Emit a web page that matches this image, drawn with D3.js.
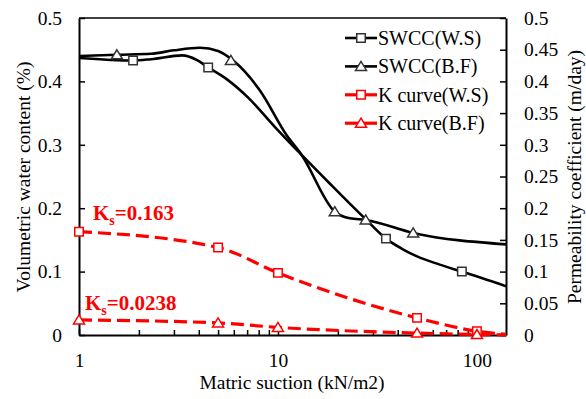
<!DOCTYPE html>
<html>
<head>
<meta charset="utf-8">
<script src="https://cdn.jsdelivr.net/npm/d3@7"></script>
<style>
  html, body { margin: 0; padding: 0; background: #fff; }
  svg { display: block; }
  text { font-family: "Liberation Serif", "Times New Roman", serif; fill: #000; }
</style>
</head>
<body>
<svg id="chart" width="586" height="399"></svg>
<script>
// ---- Data ----
// SWCC curves (smoothed lines): [suction kN/m2, volumetric water content]
const swccWSLine = [[1,0.437],[1.87,0.433],[2.3,0.435],[3.3,0.441],[3.9,0.434],[4.46,0.422],[5.5,0.404],[7,0.376],[9.66,0.328],[13.15,0.284],[18.2,0.239],[27.6,0.1825],[34.9,0.152],[42,0.136],[50,0.124],[65,0.111],[84,0.100],[140,0.077]];
const swccBFLine = [[1,0.440],[1.55,0.442],[2.3,0.4435],[3.0,0.449],[4.06,0.453],[5.0,0.448],[6.0,0.432],[8.1,0.386],[11.06,0.315],[13.15,0.284],[19.3,0.1945],[23,0.184],[27.6,0.1815],[47.8,0.161],[140,0.143]];
// SWCC measured points (markers)
const swccWSPoints = [[1.87,0.433],[4.46,0.422],[34.9,0.152],[84,0.100]];
const swccBFPoints = [[1.55,0.442],[5.8,0.433],[19.3,0.1945],[27.6,0.1815],[47.8,0.161]];
// Permeability curves: [suction, m/day]
const kWSLine = [[1,0.163],[5,0.138],[10,0.098],[50,0.027],[100,0.006],[140,0.001]];
const kBFLine = [[1,0.0238],[5,0.019],[10,0.012],[50,0.003],[100,0.0008],[140,0.0002]];
const kWSPoints = [[1,0.163],[5,0.138],[10,0.098],[50,0.027],[100,0.006]];
const kBFPoints = [[1,0.0238],[5,0.019],[10,0.012],[50,0.003],[100,0.0008]];
// Axis ticks
const xTickLabels = [1, 10, 100];
const xMinorTicks = [2,3,4,5,6,7,8,9,20,30,40,50,60,70,80,90];
const yLeftTicks = [0, 0.1, 0.2, 0.3, 0.4, 0.5];
const yRightTicks = [0,0.05,0.1,0.15,0.2,0.25,0.3,0.35,0.4,0.45,0.5];
const legendLabels = ["SWCC(W.S)", "SWCC(B.F)", "K curve(W.S)", "K curve(B.F)"];
const ksLabels = ["0.163", "0.0238"];

// ---- Layout ----
const L = 79, R = 506, T = 18, B = 335;
const svg = d3.select("#chart");
const x = d3.scaleLog().domain([1, 140]).range([L, R]);
const yL = d3.scaleLinear().domain([0, 0.5]).range([B, T]);
const yR = d3.scaleLinear().domain([0, 0.5]).range([B, T]);
const RED = "#ff0000";

// Frame top line
svg.append("line").attr("x1", L).attr("x2", R).attr("y1", T).attr("y2", T)
  .attr("stroke", "#000").attr("stroke-width", 1.5);

// Left axis
const fmt = d => d === 0 ? "0" : String(+d.toFixed(2));
const gL = svg.append("g").attr("transform", `translate(${L},0)`)
  .call(d3.axisLeft(yL).tickValues(yLeftTicks).tickFormat(fmt).tickSizeInner(-6).tickSizeOuter(0).tickPadding(17));
// Right axis
const gR = svg.append("g").attr("transform", `translate(${R},0)`)
  .call(d3.axisRight(yR).tickValues(yRightTicks).tickFormat(fmt).tickSizeInner(-6).tickSizeOuter(0).tickPadding(18));
// Bottom axis (major)
const gB = svg.append("g").attr("transform", `translate(0,${B})`)
  .call(d3.axisBottom(x).tickValues(xTickLabels).tickFormat(d3.format("d")).tickSizeInner(-6).tickSizeOuter(0).tickPadding(18));
// Bottom minor ticks
const gBm = svg.append("g").attr("transform", `translate(0,${B})`)
  .call(d3.axisBottom(x).tickValues(xMinorTicks).tickFormat("").tickSizeInner(-5).tickSizeOuter(0));
gBm.select(".domain").remove();

[gL, gR, gB, gBm].forEach(g => {
  g.selectAll(".domain").attr("stroke", "#000").attr("stroke-width", 2);
  g.selectAll(".tick line").attr("stroke", "#000").attr("stroke-width", 1.5);
  g.selectAll(".tick text").attr("font-family", "Liberation Serif, Times New Roman, serif")
    .attr("font-size", "19.5px").attr("fill", "#000");
});

// Axis titles
svg.append("text").attr("transform", `translate(30,177) rotate(-90)`)
  .attr("text-anchor", "middle").attr("font-size", "19.5px").text("Volumetric water content (%)");
svg.append("text").attr("transform", `translate(581,177) rotate(-90)`)
  .attr("text-anchor", "middle").attr("font-size", "19.5px").text("Permeability coefficient (m/day)");
svg.append("text").attr("x", 292).attr("y", 389)
  .attr("text-anchor", "middle").attr("font-size", "19.5px").text("Matric suction (kN/m2)");

// Lines
const lineL = d3.line().x(d => x(d[0])).y(d => yL(d[1])).curve(d3.curveMonotoneX);
const lineR = d3.line().x(d => x(d[0])).y(d => yR(d[1])).curve(d3.curveMonotoneX);

svg.append("path").attr("d", lineL(swccWSLine)).attr("fill", "none").attr("stroke", "#000").attr("stroke-width", 2.6);
svg.append("path").attr("d", lineL(swccBFLine)).attr("fill", "none").attr("stroke", "#000").attr("stroke-width", 2.6);
svg.append("path").attr("d", lineR(kWSLine)).attr("fill", "none").attr("stroke", RED).attr("stroke-width", 3.2).attr("stroke-dasharray", "13,6");
svg.append("path").attr("d", lineR(kBFLine)).attr("fill", "none").attr("stroke", RED).attr("stroke-width", 3.2).attr("stroke-dasharray", "13,6");

// Markers
const sqSym = d3.symbol().type(d3.symbolSquare).size(72);
const triSym = d => `M0,-5 L5.5,4 L-5.5,4 Z`;
function squares(data, ys, color) {
  svg.append("g").selectAll("path").data(data).join("path")
    .attr("transform", d => `translate(${x(d[0])},${ys(d[1])})`)
    .attr("d", sqSym()).attr("fill", "#fff").attr("stroke", color).attr("stroke-width", 1.5);
}
function triangles(data, ys, color) {
  svg.append("g").selectAll("path").data(data).join("path")
    .attr("transform", d => `translate(${x(d[0])},${ys(d[1])})`)
    .attr("d", triSym()).attr("fill", "#fff").attr("stroke", color).attr("stroke-width", 1.5);
}
squares(swccWSPoints, yL, "#333");
triangles(swccBFPoints, yL, "#333");
squares(kWSPoints, yR, RED);
triangles(kBFPoints, yR, RED);

// Ks annotations
const ksPos = [[93, 220], [85, 310]];
ksLabels.forEach((v, i) => {
  const t = svg.append("text").attr("x", ksPos[i][0]).attr("y", ksPos[i][1])
    .attr("font-size", "21px").attr("font-weight", "bold").style("fill", RED);
  t.append("tspan").text("K");
  t.append("tspan").attr("font-size", "14px").attr("dy", 5).text("s");
  t.append("tspan").attr("dy", -5).text("=" + v);
});

// Legend
const legColors = ["#000", "#000", RED, RED];
const legMarkColors = ["#333", "#333", RED, RED];
const legY0 = 38, legDy = 28.4;
legendLabels.forEach((lab, i) => {
  const cy = legY0 + i * legDy;
  svg.append("line").attr("x1", 345).attr("x2", 377).attr("y1", cy).attr("y2", cy)
    .attr("stroke", legColors[i]).attr("stroke-width", i < 2 ? 2.6 : 3.2);
  const m = svg.append("path").attr("transform", `translate(361,${cy})`)
    .attr("fill", "#fff").attr("stroke", legMarkColors[i]).attr("stroke-width", 1.5);
  if (i % 2 === 0) m.attr("d", sqSym()); else m.attr("d", triSym());
  svg.append("text").attr("x", 378).attr("y", cy + 7).attr("font-size", "20px").text(lab);
});
</script>
</body>
</html>
